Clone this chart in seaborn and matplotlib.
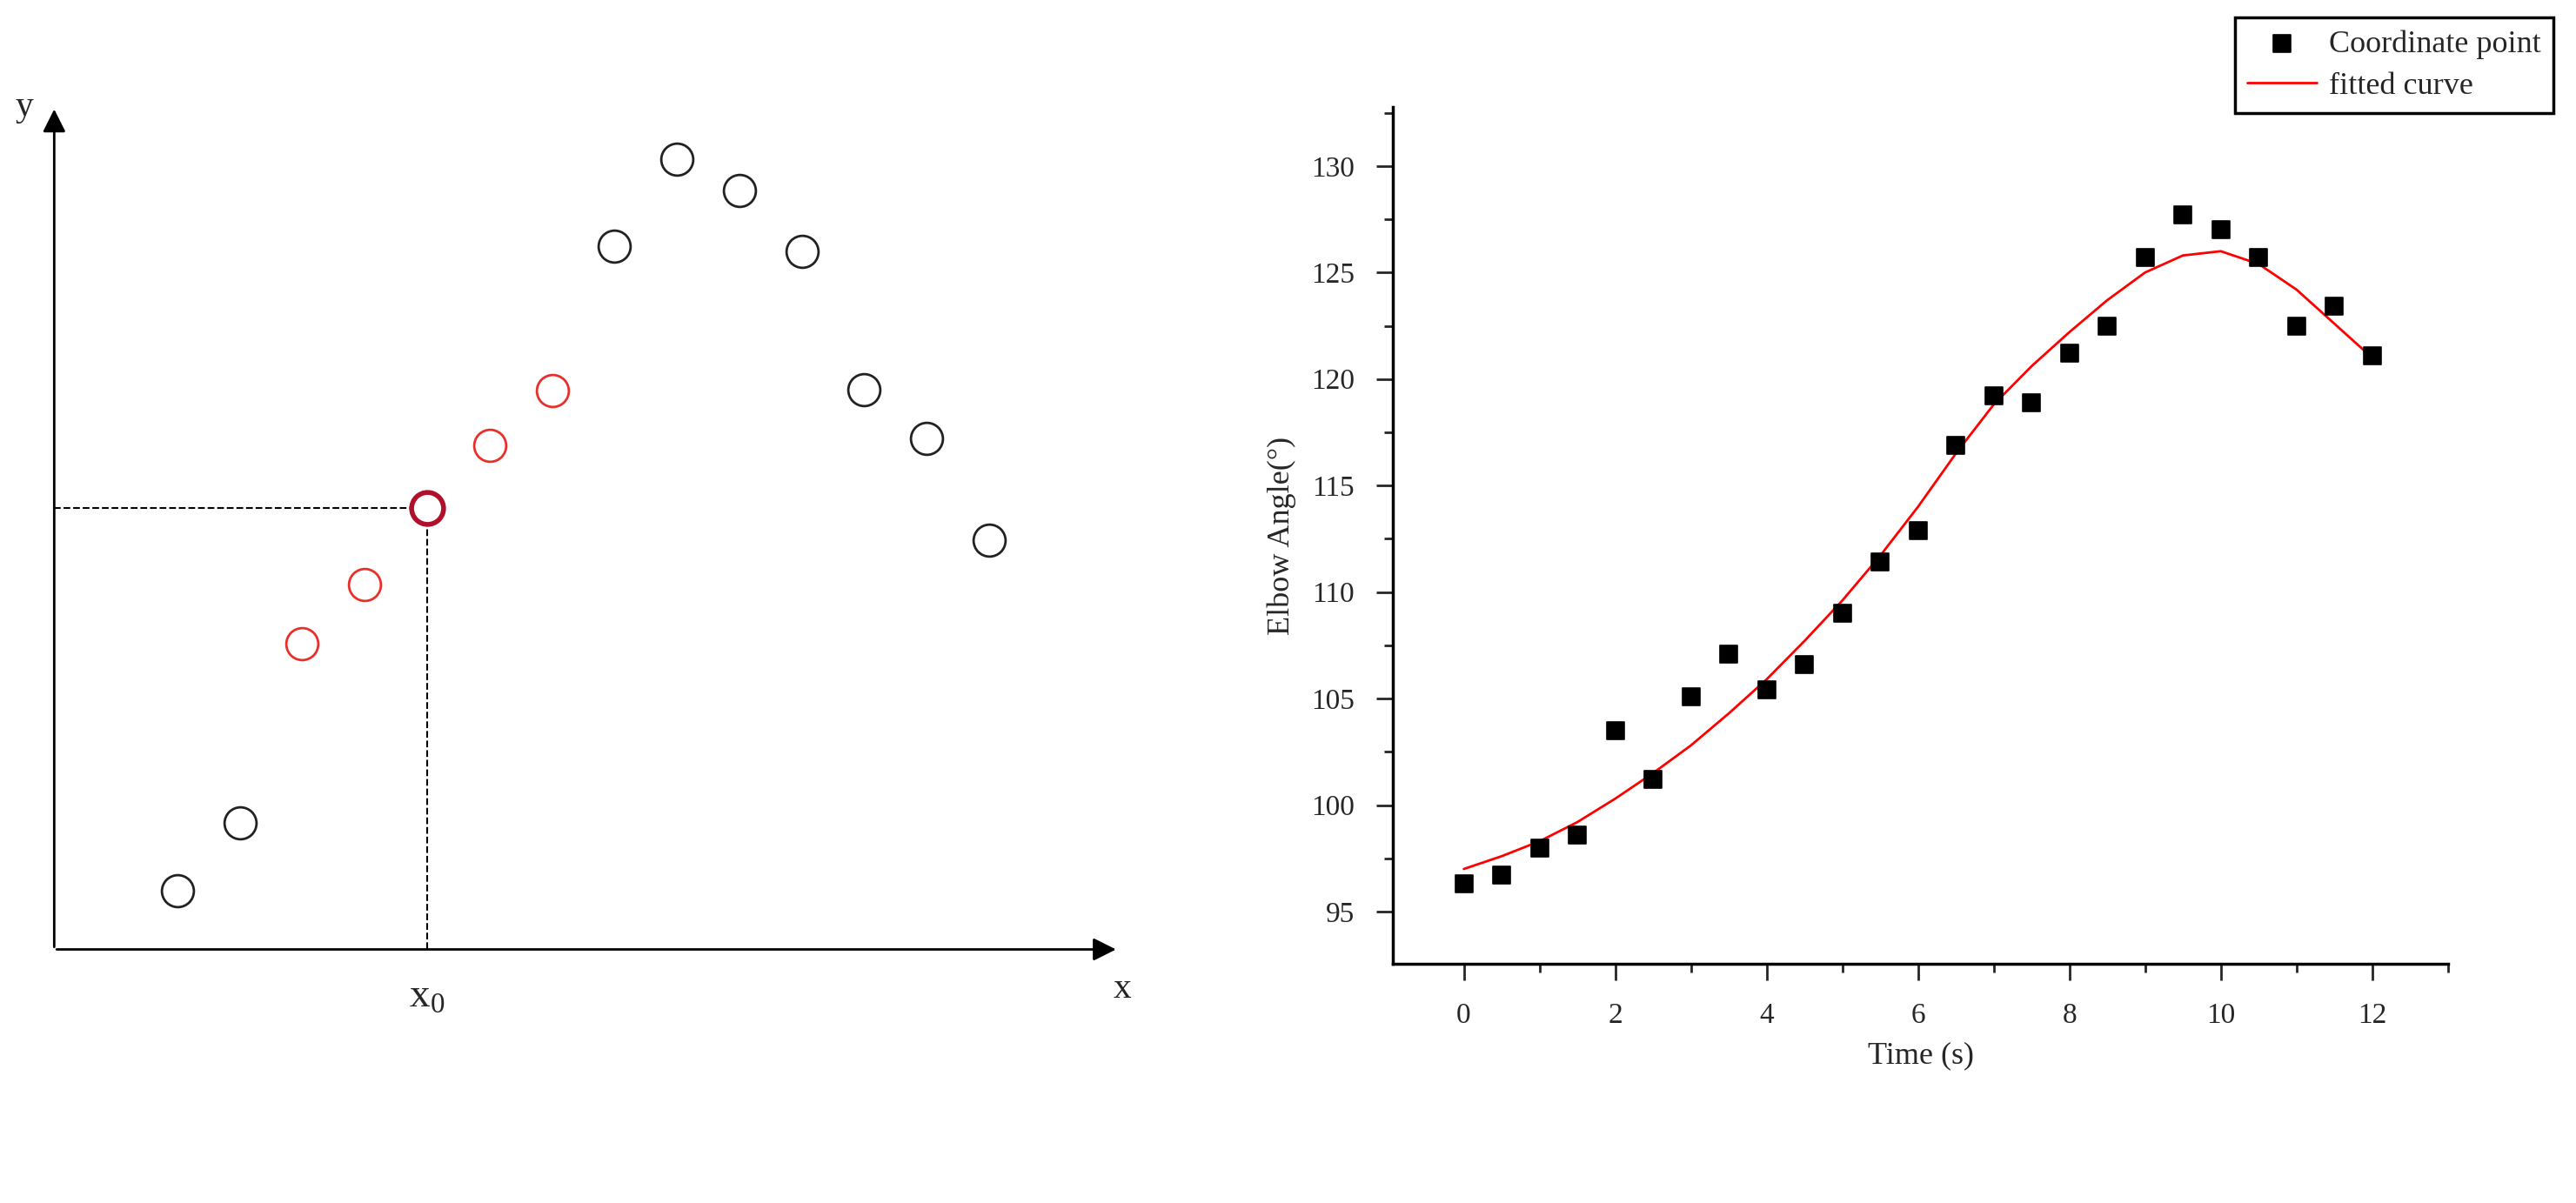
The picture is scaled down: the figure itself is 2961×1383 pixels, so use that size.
import matplotlib
matplotlib.use("Agg")
import matplotlib.pyplot as plt
import seaborn as sns
import pandas as pd
from matplotlib.ticker import MultipleLocator

sns.set_style("white")
plt.rcParams['font.family'] = ['Liberation Serif', 'DejaVu Serif']
plt.rcParams['mathtext.fontset'] = 'custom'
plt.rcParams['mathtext.rm'] = 'Liberation Serif'
plt.rcParams['mathtext.bf'] = 'Liberation Serif:bold'

# Panel (a) data
a_x = list(range(1, 15))
a_y = [36, 77, 186, 222, 269, 307, 340, 428, 481, 462, 425, 341, 311, 249]
a_group = ['black', 'black', 'red', 'red', 'sel', 'red', 'red',
           'black', 'black', 'black', 'black', 'black', 'black', 'black']

# Panel (b) data
t = [0, 0.5, 1, 1.5, 2, 2.5, 3, 3.5, 4, 4.5, 5, 5.5, 6, 6.5, 7, 7.5, 8, 8.5, 9, 9.5, 10, 10.5, 11, 11.5, 12]
angle = [96.3, 96.7, 98.0, 98.6, 103.5, 101.2, 105.1, 107.1, 105.4, 106.6, 109.0, 111.4, 112.9, 116.9,
         119.2, 118.9, 121.2, 122.5, 125.7, 127.7, 127.0, 125.7, 122.5, 123.4, 121.1]
fit = [97.0, 97.6, 98.3, 99.2, 100.3, 101.5, 102.8, 104.3, 105.9, 107.7, 109.6, 111.7, 114.0, 116.5,
       118.8, 120.6, 122.2, 123.7, 125.0, 125.8, 126.0, 125.4, 124.2, 122.6, 121.0]

W = 1568.0
H = 1383 * W / 2961
def fx(px): return px / W
def fy(py): return 1 - py / H

fig = plt.figure(figsize=(29.61, 13.83), dpi=100)

# ---- panel (a)
axa = fig.add_axes([fx(33), fy(578), fx(665) - fx(33), fy(65) - fy(578)])
dfa = pd.DataFrame({'x': a_x, 'y': a_y, 'g': a_group})
edge = {'black': '#222222', 'red': '#e8302a', 'sel': '#b0102a'}
lw = {'black': 2.0, 'red': 2.0, 'sel': 4.0}
for g in ['black', 'red', 'sel']:
    sub = dfa[dfa.g == g]
    sns.scatterplot(data=sub, x='x', y='y', ax=axa, s=700, facecolor='white',
                    edgecolor=edge[g], linewidth=lw[g], legend=False, zorder=3)
axa.set_xlim((33 - 108) / 38 + 1, (665 - 108) / 38 + 1)
axa.set_ylim(0, 513)
for s in axa.spines.values():
    s.set_visible(False)
axa.set_xticks([]); axa.set_yticks([])
axa.set_xlabel(''); axa.set_ylabel('')
sel = dfa[dfa.g == 'sel'].iloc[0]
axa.plot([axa.get_xlim()[0], sel.x], [sel.y, sel.y], ls='--', color='black', lw=1.5, zorder=1)
axa.plot([sel.x, sel.x], [0, sel.y], ls='--', color='black', lw=1.5, zorder=1)
axa.annotate('', xy=(1.025, 0), xytext=(0, 0), xycoords='axes fraction',
             arrowprops=dict(arrowstyle='-|>', color='black', lw=2, mutation_scale=40), annotation_clip=False)
axa.annotate('', xy=(0, 1.0), xytext=(0, 0), xycoords='axes fraction',
             arrowprops=dict(arrowstyle='-|>', color='black', lw=2, mutation_scale=40), annotation_clip=False)
fig.text(fx(15), fy(65), 'y', fontsize=30, ha='center', va='center')
fig.text(fx(683), fy(602), 'x', fontsize=30, ha='center', va='center')
fig.text(fx(260), fy(607), r'x$_\mathrm{0}$', fontsize=34, ha='center', va='center')
fig.text(fx(350), fy(780), r'($\mathbf{a}$)', fontsize=46, ha='center', va='center')

# ---- panel (b)
axb = fig.add_axes([fx(848), fy(587), fx(1490) - fx(848), fy(65) - fy(587)])
dfb = pd.DataFrame({'t': t, 'angle': angle, 'fit': fit})
sns.lineplot(data=dfb, x='t', y='fit', ax=axb, color='#ff0000', lw=2, label='fitted curve')
sns.scatterplot(data=dfb, x='t', y='angle', ax=axb, marker='s', s=220, color='black',
                edgecolor='black', label='Coordinate point', zorder=3)
axb.set_xlim(-0.933, 13.0)
axb.set_ylim(92.53, 132.78)
axb.spines['top'].set_visible(False)
axb.spines['right'].set_visible(False)
for s in ['left', 'bottom']:
    axb.spines[s].set_linewidth(2.5)
    axb.spines[s].set_color('black')
axb.xaxis.set_major_locator(MultipleLocator(2))
axb.xaxis.set_minor_locator(MultipleLocator(1))
axb.yaxis.set_major_locator(MultipleLocator(5))
axb.yaxis.set_minor_locator(MultipleLocator(2.5))
axb.tick_params(which='major', direction='out', length=14, width=2, labelsize=24, left=True, bottom=True, pad=18)
axb.tick_params(which='minor', direction='out', length=7, width=2, left=True, bottom=True)
axb.set_xlabel('Time (s)', fontsize=26, labelpad=10)
axb.set_ylabel('Elbow Angle(°)', fontsize=26, labelpad=12)
h, l = axb.get_legend_handles_labels()
if axb.get_legend():
    axb.get_legend().remove()
leg = fig.legend([h[1], h[0]], [l[1], l[0]], loc='upper right', bbox_to_anchor=(fx(1564), fy(1)),
                 fontsize=26, frameon=True, fancybox=False, edgecolor='black', framealpha=1,
                 handlelength=2.2, handletextpad=0.4, borderpad=0.4, labelspacing=0.4)
leg.get_frame().set_linewidth(2.5)
fig.text(fx(1163), fy(780), r'($\mathbf{b}$)', fontsize=46, ha='center', va='center')

fig.savefig('out.png', dpi=100, facecolor='white')
